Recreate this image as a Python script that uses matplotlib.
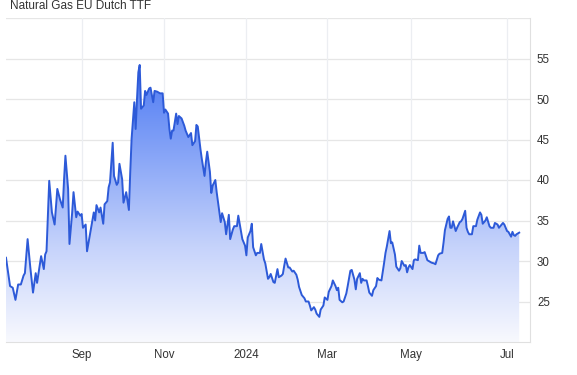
import numpy as np
import matplotlib
matplotlib.use("Agg")
import matplotlib.pyplot as plt
from matplotlib.colors import LinearSegmentedColormap

plt.rcParams['font.family'] = ['Liberation Sans', 'DejaVu Sans']

# days since 2023-07-07 and TTF price (EUR/MWh)
day = [0, 3, 5, 7, 9, 11, 13, 14, 16, 18, 20, 22, 23, 26, 28, 29, 30, 32, 34, 36,
       38, 40, 42, 43, 44, 46, 47, 49, 50, 52, 53, 55, 56, 57, 59, 60, 62, 64, 65, 66,
       67, 69, 70, 72, 73, 75, 76, 77, 79, 80, 82, 83, 84, 86, 87, 89, 91, 92, 93, 95,
       96, 97, 98, 99, 100, 102, 103, 104, 106, 107, 109, 110, 112, 114, 116, 117, 118, 120, 121, 122,
       123, 124, 126, 127, 128, 130, 132, 133, 135, 137, 138, 140, 141, 142, 144, 145, 147, 148, 149, 151,
       152, 153, 155, 156, 158, 159, 160, 162, 163, 165, 166, 168, 169, 171, 172, 174, 175, 177, 178, 179,
       181, 182, 183, 185, 186, 188, 189, 191, 192, 194, 195, 196, 198, 199, 201, 202, 204, 205, 206, 207,
       209, 210, 212, 213, 215, 216, 217, 219, 221, 222, 224, 225, 226, 228, 229, 230, 232, 233, 235, 236,
       238, 239, 241, 242, 244, 245, 246, 247, 249, 250, 252, 253, 255, 256, 258, 259, 260, 262, 263, 264,
       265, 267, 268, 269, 271, 272, 274, 275, 276, 278, 280, 281, 282, 284, 285, 286, 288, 289, 291, 292,
       293, 294, 295, 296, 297, 298, 299, 301, 302, 303, 305, 306, 307, 309, 310, 312, 314, 315, 317, 318,
       320, 321, 323, 324, 325, 327, 328, 329, 330, 331, 333, 334, 336, 337, 338, 340, 341, 342, 343, 345,
       346, 348, 349, 351, 352, 353, 355, 356, 358, 359, 361, 362, 364, 365, 367, 368, 369, 371, 372, 374,
       375, 376, 377, 378, 380]
price = [30.4, 26.9, 26.7, 25.2, 27.1, 27.1, 28.2, 28.5, 32.7, 29.2, 26.1, 28.5, 27.3, 30.6, 29.0, 30.8, 31.2, 39.9, 36.0, 34.5,
         38.9, 37.6, 36.6, 40.1, 43.0, 38.9, 32.1, 36.0, 38.5, 35.4, 36.1, 35.6, 35.8, 34.1, 34.5, 31.2, 33.1, 35.0, 36.0, 35.0,
         36.9, 36.0, 36.6, 34.6, 37.0, 37.4, 39.1, 39.7, 44.6, 40.5, 39.4, 39.7, 42.0, 40.1, 37.2, 38.5, 36.3, 41.0, 45.1, 49.6,
         46.3, 50.0, 53.3, 54.2, 48.8, 49.2, 51.0, 50.5, 51.3, 51.4, 49.6, 51.0, 50.9, 50.7, 50.7, 48.3, 48.7, 48.2, 46.3, 45.1,
         46.1, 46.1, 48.2, 46.9, 47.9, 47.6, 46.7, 46.1, 45.3, 45.8, 44.3, 44.8, 46.8, 46.6, 43.8, 42.6, 40.5, 42.2, 43.5, 41.0,
         38.4, 39.3, 40.0, 38.5, 36.0, 34.8, 35.9, 34.8, 33.3, 35.7, 32.7, 33.9, 34.3, 34.3, 35.6, 33.7, 32.7, 31.9, 30.7, 32.9,
         33.7, 34.6, 31.7, 30.7, 31.0, 31.0, 32.1, 30.2, 29.7, 27.8, 28.0, 28.4, 27.4, 27.3, 29.0, 28.0, 28.2, 28.4, 29.4, 30.3,
         29.2, 29.2, 28.7, 28.8, 28.3, 27.7, 26.8, 25.8, 25.4, 25.0, 25.0, 24.5, 23.9, 24.3, 24.0, 23.5, 23.1, 24.0, 24.5, 25.5,
         25.2, 26.2, 26.9, 27.6, 26.9, 26.4, 26.7, 25.2, 24.9, 25.0, 26.0, 26.9, 28.8, 28.9, 27.7, 26.5, 27.8, 28.5, 27.3, 27.8,
         27.6, 27.6, 26.9, 26.1, 25.7, 26.4, 26.9, 27.9, 27.7, 27.6, 29.8, 31.0, 31.8, 33.7, 32.2, 32.3, 30.8, 29.3, 28.8, 29.1,
         30.0, 29.7, 29.4, 29.5, 28.6, 29.2, 29.5, 29.0, 30.1, 30.2, 30.1, 31.9, 31.0, 31.0, 31.1, 30.1, 29.9, 29.8, 29.7, 29.6,
         30.7, 30.9, 31.0, 32.3, 33.8, 35.2, 35.5, 34.1, 34.1, 34.9, 33.7, 34.1, 34.8, 34.9, 35.2, 36.2, 34.1, 33.6, 33.3, 33.3,
         34.3, 34.3, 35.1, 36.0, 35.7, 34.6, 35.0, 35.4, 34.3, 34.1, 34.1, 34.7, 34.5, 34.1, 34.5, 34.7, 34.5, 33.7, 33.6, 33.0,
         33.6, 33.2, 33.1, 33.3, 33.5]

tick_days = [56, 117, 178, 238, 300, 371]
tick_labels = ["Sep", "Nov", "2024", "Mar", "May", "Jul"]
y_ticks = [25, 30, 35, 40, 45, 50, 55]

x = np.array(day)
y = np.array(price)
xmin, xmax = 0, 388
ymin, ymax = 20, 60

fig = plt.figure(figsize=(5.77, 3.75), dpi=100)
ax = fig.add_axes([6 / 577, 33 / 375, 524 / 577, 324 / 375])

# gradient fill under the line
cmap = LinearSegmentedColormap.from_list(
    "fade", ["#f8f9fe", "#c6d3fb", "#86a4f7", "#4876f3"])
grad = np.linspace(0, 1, 256).reshape(-1, 1)
img = ax.imshow(grad, cmap=cmap, aspect="auto", origin="lower",
                extent=[xmin, xmax, ymin, 55], zorder=1)
poly = ax.fill_between(x, y, ymin, facecolor="none", edgecolor="none")
img.set_clip_path(poly.get_paths()[0], transform=ax.transData)

ax.plot(x, y, color="#2d5ad8", lw=1.4, zorder=3)

ax.set_xlim(xmin, xmax)
ax.set_ylim(ymin, ymax)

ax.set_xticks(tick_days)
ax.set_xticklabels(tick_labels)
ax.set_yticks(y_ticks)
ax.yaxis.tick_right()
ax.tick_params(axis="both", length=0, labelsize=8.3, colors="#333333")
ax.tick_params(axis="y", pad=5)
ax.tick_params(axis="x", pad=5)

for v in y_ticks + [60]:
    ax.axhline(v, color="#e6e6e6", lw=0.9, zorder=0)
for t in tick_days:
    ax.axvline(t, color="#eceef2", lw=0.9, zorder=0)

for s in ["left", "top"]:
    ax.spines[s].set_visible(False)
ax.spines["right"].set_color("#e0e0e0")
ax.spines["bottom"].set_color("#e0e0e0")

fig.text(10 / 577, 1 - 9 / 375, "Natural Gas EU Dutch TTF", fontsize=8.5,
         color="#333333", va="baseline", ha="left")

fig.savefig("out.png", dpi=100)
